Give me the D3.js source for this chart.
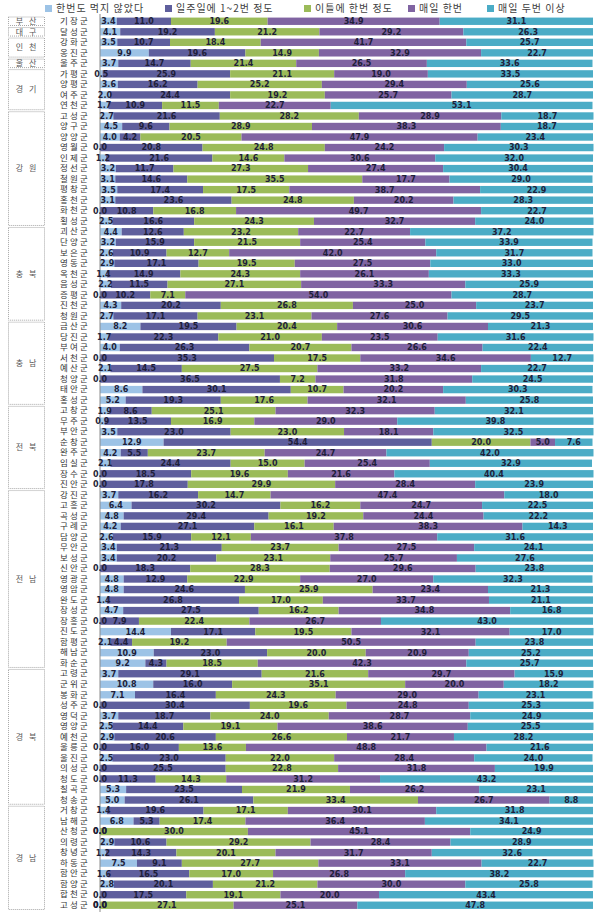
<!DOCTYPE html>
<html><head><meta charset="utf-8">
<script src="https://cdn.jsdelivr.net/npm/d3@7"></script>
<style>
html,body{margin:0;padding:0;background:#fff;}
svg{display:block;}
</style></head>
<body>
<svg id="chart" width="601" height="919"></svg>
<script>
const seriesNames = ["한번도 먹지 않았다","일주일에 1~2번 정도","이틀에 한번 정도","매일 한번","매일 두번 이상"];
const seriesColors = ["#9dc3e6","#5f5f9d","#9bbb59","#8064a2","#4bacc6"];

const regions = ["부 산","대 구","인 천","울 산","경 기","강 원","충 북","충 남","전 북","전 남","경 북","경 남"];
const regionCounts = [1,1,2,1,4,11,9,8,8,17,13,10];

const categories = [
"기장군","달성군","강화군","옹진군","울주군","가평군","양평군","여주군","연천군",
"고성군","양구군","양양군","영월군","인제군","정선군","철원군","평창군","홍천군","화천군","횡성군",
"괴산군","단양군","보은군","영동군","옥천군","음성군","증평군","진천군","청원군",
"금산군","당진군","부여군","서천군","예산군","청양군","태안군","홍성군",
"고창군","무주군","부안군","순창군","완주군","임실군","장수군","진안군",
"강진군","고흥군","곡성군","구례군","담양군","무안군","보성군","신안군","영광군","영암군","완도군","장성군","장흥군","진도군","함평군","해남군","화순군",
"고령군","군위군","봉화군","성주군","영덕군","영양군","예천군","울릉군","울진군","의성군","청도군","칠곡군","청송군",
"거창군","남해군","산청군","의령군","창녕군","하동군","함안군","함양군","합천군","고성군"];

const neverAte = [
3.4,4.1,3.5,9.9,3.7,0.5,3.6,2.0,1.7,
2.7,4.5,4.0,0.0,1.2,3.2,3.1,3.5,3.1,0.0,2.5,
4.4,3.2,2.6,2.9,1.4,2.2,0.0,4.3,2.7,
8.2,1.7,4.0,0.0,2.1,0.0,8.6,5.2,
1.9,0.9,3.5,12.9,4.2,2.1,0.0,0.0,
3.7,6.4,4.8,4.2,2.6,3.4,3.4,0.0,4.8,4.8,1.4,4.7,0.0,14.4,2.1,10.9,9.2,
3.7,10.8,7.1,0.0,3.7,2.5,2.9,0.0,2.5,0.0,0.0,5.3,5.0,
1.4,6.8,0.0,2.9,1.2,7.5,1.6,2.8,0.0,0.0];

const weekly12 = [
11.0,19.2,10.7,19.6,14.7,25.9,16.2,24.4,10.9,
21.6,9.6,4.2,20.8,21.6,11.7,14.6,17.4,23.6,10.8,16.6,
12.6,15.9,10.9,17.1,14.9,11.5,10.2,20.2,17.1,
19.5,22.3,26.3,35.3,14.5,36.5,30.1,19.3,
8.6,13.5,23.0,54.4,5.5,24.4,18.5,17.8,
16.2,30.2,29.4,27.1,15.9,21.3,20.2,18.3,12.9,24.6,26.8,27.5,7.9,17.1,4.4,23.0,4.3,
29.1,16.0,16.4,30.4,18.7,14.4,20.6,16.0,23.0,25.5,11.3,23.5,26.1,
19.6,5.3,0.0,10.6,14.3,9.1,16.5,20.1,17.5,0.0];

const everyOtherDay = [
19.6,21.2,18.4,14.9,21.4,21.1,25.2,19.2,11.5,
28.2,28.9,20.5,24.8,14.6,27.3,35.5,17.5,24.8,16.8,24.3,
23.2,21.5,12.7,19.5,24.3,27.1,7.1,26.8,23.1,
20.4,21.0,20.7,17.5,27.5,7.2,10.7,17.6,
25.1,16.9,23.0,20.0,23.7,15.0,19.6,29.9,
14.7,16.2,19.2,16.1,12.1,23.7,23.1,28.3,22.9,25.9,17.0,16.2,22.4,19.5,19.2,20.0,18.5,
21.6,35.1,24.3,19.6,24.0,19.1,26.6,13.6,22.0,22.8,14.3,21.9,33.4,
17.1,17.4,30.0,29.2,20.1,27.7,17.0,21.2,19.1,27.1];

const oncePerDay = [
34.9,29.2,41.7,32.9,26.5,19.0,29.4,25.7,22.7,
28.9,38.3,47.9,24.2,30.6,27.4,17.7,38.7,20.2,49.7,32.7,
22.7,25.4,42.0,27.5,26.1,33.3,54.0,25.0,27.6,
30.6,23.5,26.6,34.6,33.2,31.8,20.2,32.1,
32.3,29.0,18.1,5.0,24.7,25.4,21.6,28.4,
47.4,24.7,24.4,38.3,37.8,27.5,25.7,29.6,27.0,23.4,33.7,34.8,26.7,32.1,50.5,20.9,42.3,
29.7,20.0,29.0,24.8,28.7,38.6,21.7,48.8,28.4,31.8,31.2,26.2,26.7,
30.1,36.4,45.1,28.4,31.7,33.1,26.8,30.0,20.0,25.1];

const twicePlus = [
31.1,26.3,25.7,22.7,33.6,33.5,25.6,28.7,53.1,
18.7,18.7,23.4,30.3,32.0,30.4,29.0,22.9,28.3,22.7,24.0,
37.2,33.9,31.7,33.0,33.3,25.9,28.7,23.7,29.5,
21.3,31.6,22.4,12.7,22.7,24.5,30.3,25.8,
32.1,39.8,32.5,7.6,42.0,32.9,40.4,23.9,
18.0,22.5,22.2,14.3,31.6,24.1,27.6,23.8,32.3,21.3,21.1,16.8,43.0,17.0,23.8,25.2,25.7,
15.9,18.2,23.1,25.3,24.9,25.5,28.2,21.6,24.0,19.9,43.2,23.1,8.8,
31.8,34.1,24.9,28.9,32.6,22.7,38.2,25.8,43.4,47.8];

const seriesValues = [neverAte, weekly12, everyOtherDay, oncePerDay, twicePlus];

const svg = d3.select("#chart");
const n = categories.length;

const x = d3.scaleLinear().domain([0,100]).range([100,593]);
const y = d3.scaleBand().domain(d3.range(n)).range([16,910.5]).paddingInner(0.3).paddingOuter(0.15);

const rows = d3.range(n).map(i => {
  const o = {idx:i};
  seriesNames.forEach((s,k)=> o[s] = seriesValues[k][i]);
  return o;
});
const stacked = d3.stack().keys(seriesNames)(rows);

// bars
const gBars = svg.append("g");
stacked.forEach((layer,k)=>{
  gBars.append("g").attr("fill", seriesColors[k])
    .selectAll("rect").data(layer).join("rect")
    .attr("x", d=>x(d[0]))
    .attr("y", d=>y(d.data.idx))
    .attr("width", d=>Math.max(0, x(d[1])-x(d[0])))
    .attr("height", y.bandwidth());
});

// category axis
const axis = d3.axisLeft(y).tickSize(0).tickPadding(10).tickFormat(i=>categories[i]);
const gAxis = svg.append("g").attr("transform","translate(100,0)").call(axis);
gAxis.select(".domain").remove();
gAxis.selectAll("text")
  .attr("font-family","'Noto Sans CJK KR', sans-serif")
  .attr("font-size","8.5px")
  .attr("letter-spacing","2.2px")
  .attr("fill","#333");
svg.append("line").attr("x1",100).attr("x2",100).attr("y1",14).attr("y2",912)
  .attr("stroke","#8c8c8c").attr("stroke-width",1);

// value labels
const gLab = svg.append("g")
  .attr("font-family","'DejaVu Sans', sans-serif")
  .attr("font-weight","bold")
  .attr("font-size","8px")
  .attr("fill","#1f1f3a")
  .attr("text-anchor","middle");
stacked.forEach((layer,k)=>{
  gLab.selectAll(null).data(layer).join("text")
    .attr("x", d=>(x(d[0])+x(d[1]))/2)
    .attr("y", d=>y(d.data.idx)+y.bandwidth()/2)
    .attr("dy","0.36em")
    .text(d=>d.data[seriesNames[k]].toFixed(1));
});

// region boxes
let start = 0;
const gReg = svg.append("g");
regions.forEach((r,j)=>{
  const first = start, last = start + regionCounts[j] - 1;
  const step = y.step();
  const top = y(first) - step*0.15 + 1;
  const bot = y(last) + y.bandwidth() + step*0.15 - 1;
  gReg.append("rect").attr("x",8.5).attr("y",top).attr("width",36).attr("height",bot-top)
    .attr("fill","#fff").attr("stroke","#a6a6a6").attr("stroke-width",1)
    .attr("stroke-dasharray","1,1");
  gReg.append("text").attr("x",27).attr("y",(top+bot)/2).attr("dy","0.35em")
    .attr("text-anchor","middle")
    .attr("font-family","'Noto Sans CJK KR', sans-serif")
    .attr("font-size","8px").attr("letter-spacing","2px")
    .attr("fill","#595959").text(r);
  start += regionCounts[j];
});

// legend
const legendX = [45,165,304,408,487];
const gLeg = svg.append("g");
seriesNames.forEach((s,k)=>{
  gLeg.append("rect").attr("x",legendX[k]).attr("y",5).attr("width",7).attr("height",7).attr("fill",seriesColors[k]);
  gLeg.append("text").attr("x",legendX[k]+11).attr("y",8.5).attr("dy","0.35em")
    .attr("font-family","'Noto Sans CJK KR', sans-serif")
    .attr("font-size","10px").attr("letter-spacing","1px")
    .attr("fill","#404040").text(s);
});
</script>
</body></html>
